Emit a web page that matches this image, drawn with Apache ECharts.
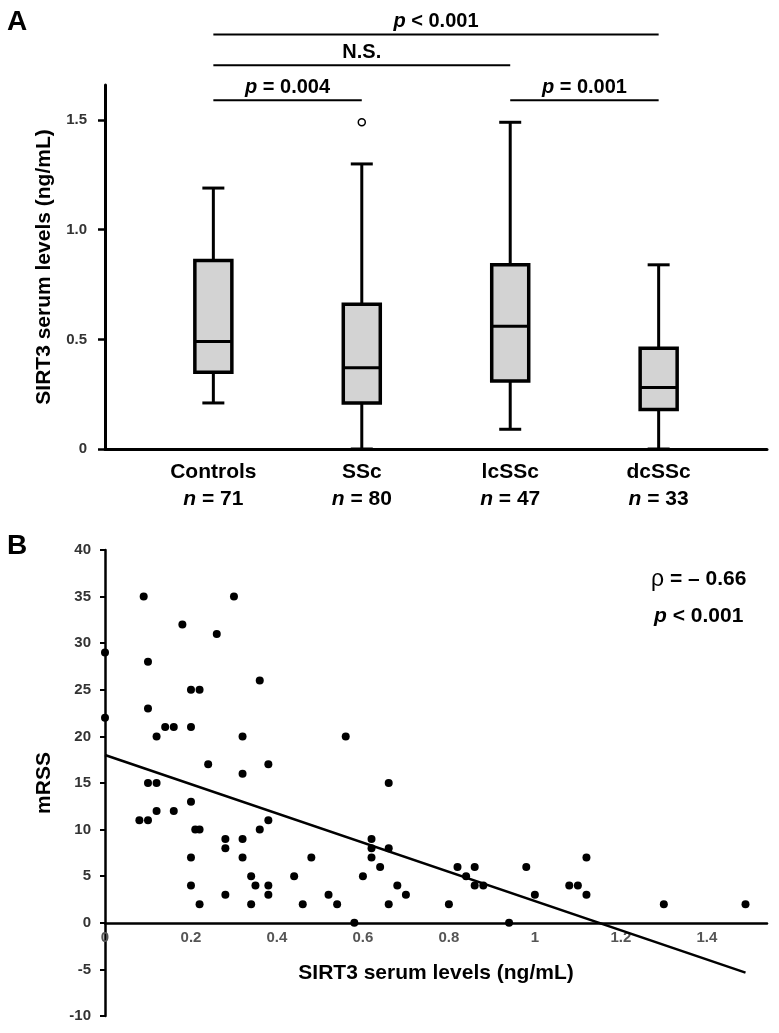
<!DOCTYPE html>
<html>
<head>
<meta charset="utf-8">
<script src="https://cdn.jsdelivr.net/npm/echarts@6/dist/echarts.min.js"></script>
<style>
html,body{margin:0;padding:0;background:#fff;}
#chart{width:779px;height:1033px;}
</style>
</head>
<body>
<div id="chart"></div>
<script>
// ---------- Panel A data ----------
const categories = ['Controls', 'SSc', 'lcSSc', 'dcSSc'];
const nCounts = [71, 80, 47, 33];
const boxMin = [0.21, 0, 0.09, 0];
const boxQ1 = [0.35, 0.21, 0.31, 0.18];
const boxMedian = [0.49, 0.37, 0.56, 0.28];
const boxQ3 = [0.86, 0.66, 0.84, 0.46];
const boxMax = [1.19, 1.30, 1.49, 0.84];
const outlierGroup = [2];
const outlierValue = [1.49];

// significance brackets (from group, to group, level, label)
const sigFrom = [1, 1, 1, 3];
const sigTo = [2, 3, 4, 4];
const sigLevel = [1.59, 1.75, 1.89, 1.59];
const sigLabel = ['p = 0.004', 'N.S.', 'p < 0.001', 'p = 0.001'];

// ---------- Panel B data ----------
const sirt3 = [
  0.09, 0.30, 0.18, 0.26, 0, 0.10, 0.20, 0.22, 0.36, 0.10, 0,
  0.14, 0.16, 0.20, 0.12, 0.32, 0.56, 0.24, 0.38, 0.32, 0.66, 0.10, 0.12,
  0.08, 0.10, 0.12, 0.16, 0.20, 0.21, 0.22, 0.20, 0.20, 0.22,
  0.28, 0.28, 0.28, 0.32, 0.32, 0.34, 0.35, 0.34, 0.36, 0.38, 0.38, 0.38,
  0.44, 0.46, 0.48, 0.52, 0.54, 0.58, 0.60, 0.62, 0.62, 0.62, 0.64, 0.66, 0.66,
  0.68, 0.70, 0.80, 0.82, 0.84, 0.86, 0.86, 0.88, 0.94, 0.98, 1.00,
  1.08, 1.10, 1.12, 1.12, 1.30, 1.49
];
const mrss = [
  35, 35, 32, 31, 29, 28, 25, 25, 26, 23, 22,
  21, 21, 21, 20, 20, 20, 17, 17, 16, 15, 15, 15,
  11, 11, 12, 12, 13, 10, 10, 7, 4, 2,
  9, 8, 3, 9, 7, 5, 4, 2, 10, 11, 4, 3,
  5, 2, 7, 3, 2, 0, 5, 9, 8, 7, 6, 8, 2,
  4, 3, 2, 6, 5, 6, 4, 4, 0, 6, 3,
  4, 4, 7, 3, 2, 2
];
const regX = [0, 1.49];
const regY = [18, -5.35];
const rhoText = '– 0.66';
const pTextB = '< 0.001';
const yMinB = -10, yMaxB = 40;

const FONT = "'Liberation Sans', Arial, sans-serif";

const boxData = categories.map((c, i) => [i + 1, boxMin[i], boxQ1[i], boxMedian[i], boxQ3[i], boxMax[i]]);
const outlierData = outlierGroup.map((g, i) => [g, outlierValue[i]]);
const sigData = sigFrom.map((f, i) => [f, sigTo[i], sigLevel[i], i]);
const scatterData = sirt3.map((x, i) => [x, mrss[i]]);
const regData = regX.map((x, i) => [x, regY[i]]);

const gridB = { left: 105, right: 12, top: 550, bottom: 17 };
const gridBHeight = 1033 - gridB.top - gridB.bottom;
const xAxisBOffset = -gridBHeight * (0 - yMinB) / (yMaxB - yMinB);

function renderBox(params, api) {
  const x = api.value(0);
  const pMin = api.coord([x, api.value(1)]);
  const pQ1 = api.coord([x, api.value(2)]);
  const pMed = api.coord([x, api.value(3)]);
  const pQ3 = api.coord([x, api.value(4)]);
  const pMax = api.coord([x, api.value(5)]);
  const bw = 37, cw = 22;
  const cx = pMed[0];
  const lineStyle = { stroke: '#000', lineWidth: 3 };
  return {
    type: 'group',
    children: [
      { type: 'line', shape: { x1: cx, y1: pMin[1], x2: cx, y2: pQ1[1] }, style: lineStyle },
      { type: 'line', shape: { x1: cx, y1: pQ3[1], x2: cx, y2: pMax[1] }, style: lineStyle },
      { type: 'line', shape: { x1: cx - cw / 2, y1: pMin[1], x2: cx + cw / 2, y2: pMin[1] }, style: lineStyle },
      { type: 'line', shape: { x1: cx - cw / 2, y1: pMax[1], x2: cx + cw / 2, y2: pMax[1] }, style: lineStyle },
      { type: 'rect', shape: { x: cx - bw / 2, y: pQ3[1], width: bw, height: pQ1[1] - pQ3[1] },
        style: { fill: '#d3d3d3', stroke: '#000', lineWidth: 3.5 } },
      { type: 'line', shape: { x1: cx - bw / 2, y1: pMed[1], x2: cx + bw / 2, y2: pMed[1] }, style: { stroke: '#000', lineWidth: 3 } }
    ]
  };
}

function renderSig(params, api) {
  const a = api.coord([api.value(0), api.value(2)]);
  const b = api.coord([api.value(1), api.value(2)]);
  const label = sigLabel[api.value(3)];
  const rich = label.charAt(0) === 'p' ? '{i|p}' + label.slice(1) : label;
  return {
    type: 'group',
    children: [
      { type: 'line', shape: { x1: a[0], y1: a[1], x2: b[0], y2: b[1] }, style: { stroke: '#000', lineWidth: 2 } },
      { type: 'text', x: (a[0] + b[0]) / 2, y: a[1] - 3,
        style: { text: rich, fontFamily: FONT, fontWeight: 'bold', fontSize: 20, fill: '#000',
                 align: 'center', verticalAlign: 'bottom',
                 rich: { i: { fontStyle: 'italic', fontWeight: 'bold', fontSize: 20, fontFamily: FONT } } } }
    ]
  };
}

const chart = echarts.init(document.getElementById('chart'), null, { renderer: 'canvas' });

const option = {
  backgroundColor: '#fff',
  animation: false,
  textStyle: { fontFamily: FONT },
  grid: [
    { left: 105, right: 12, top: 85, bottom: 584 },
    gridB
  ],
  xAxis: [
    {
      gridIndex: 0, type: 'value', min: 0.27, max: 4.73,
      splitLine: { show: false },
      axisLine: { show: true, lineStyle: { color: '#000', width: 3 } },
      axisTick: { show: false },
      axisLabel: {
        customValues: [1, 2, 3, 4],
        margin: 10,
        color: '#000', fontWeight: 'bold', fontSize: 21, fontFamily: FONT, lineHeight: 27,
        formatter: function (v) {
          const i = Math.round(v) - 1;
          return categories[i] + '\n{i|n} = ' + nCounts[i];
        },
        rich: { i: { fontStyle: 'italic', fontWeight: 'bold', fontSize: 21, fontFamily: FONT, color: '#000', lineHeight: 27 } }
      }
    },
    {
      gridIndex: 1, type: 'value', min: 0, max: 1.54, interval: 0.2,
      offset: xAxisBOffset,
      splitLine: { show: false },
      axisLine: { show: true, onZero: false, lineStyle: { color: '#000', width: 2.5 } },
      axisTick: { show: false },
      axisLabel: {
        margin: 8, showMaxLabel: false,
        color: '#555', fontWeight: 'bold', fontSize: 15, fontFamily: FONT,
        formatter: function (v) { return String(Math.round(v * 10) / 10); }
      },
      name: 'SIRT3 serum levels (ng/mL)', nameLocation: 'middle', nameGap: 40,
      nameTextStyle: { color: '#000', fontWeight: 'bold', fontSize: 21, fontFamily: FONT }
    }
  ],
  yAxis: [
    {
      gridIndex: 0, type: 'value', min: 0, max: 1.66, interval: 0.5,
      splitLine: { show: false },
      axisLine: { show: true, lineStyle: { color: '#000', width: 3 } },
      axisTick: { show: true, length: 7, lineStyle: { color: '#000', width: 2.5 } },
      axisLabel: {
        margin: 18, showMaxLabel: false,
        color: '#333', fontWeight: 'bold', fontSize: 15, fontFamily: FONT,
        formatter: function (v) { return v === 0 ? '0' : v.toFixed(1); }
      },
      name: 'SIRT3 serum levels (ng/mL)', nameLocation: 'middle', nameGap: 50, nameRotate: 90,
      nameTextStyle: { color: '#000', fontWeight: 'bold', fontSize: 21, fontFamily: FONT }
    },
    {
      gridIndex: 1, type: 'value', min: yMinB, max: yMaxB, interval: 5,
      splitLine: { show: false },
      axisLine: { show: true, onZero: false, lineStyle: { color: '#000', width: 2.5 } },
      axisTick: { show: true, length: 5, lineStyle: { color: '#000', width: 2 } },
      axisLabel: {
        margin: 14,
        color: '#333', fontWeight: 'bold', fontSize: 15, fontFamily: FONT
      },
      name: 'mRSS', nameLocation: 'middle', nameGap: 50, nameRotate: 90,
      nameTextStyle: { color: '#000', fontWeight: 'bold', fontSize: 21, fontFamily: FONT }
    }
  ],
  series: [
    {
      type: 'custom', xAxisIndex: 0, yAxisIndex: 0,
      renderItem: renderBox, data: boxData,
      encode: { x: 0, y: [1, 2, 3, 4, 5] }, z: 3
    },
    {
      type: 'scatter', xAxisIndex: 0, yAxisIndex: 0,
      data: outlierData, symbol: 'circle', symbolSize: 7,
      itemStyle: { color: '#fff', borderColor: '#000', borderWidth: 1.5, opacity: 1 }, z: 4
    },
    {
      type: 'custom', xAxisIndex: 0, yAxisIndex: 0, clip: false,
      renderItem: renderSig, data: sigData,
      encode: { x: [0, 1], y: 2 }, z: 5
    },
    {
      type: 'scatter', xAxisIndex: 1, yAxisIndex: 1,
      data: scatterData, symbol: 'circle', symbolSize: 8,
      itemStyle: { color: '#000', opacity: 1 }, z: 4
    },
    {
      type: 'line', xAxisIndex: 1, yAxisIndex: 1,
      data: regData, showSymbol: false, symbol: 'none',
      lineStyle: { color: '#000', width: 2.5 }, z: 3
    }
  ],
  graphic: [
    { type: 'text', left: 7, top: 8, style: { text: 'A', fontFamily: FONT, fontWeight: 'bold', fontSize: 28, fill: '#000' } },
    { type: 'text', left: 7, top: 532, style: { text: 'B', fontFamily: FONT, fontWeight: 'bold', fontSize: 28, fill: '#000' } },
    { type: 'text', left: 651, top: 568, style: {
        text: '{r|ρ} = ' + rhoText, fontFamily: FONT, fontWeight: 'bold', fontSize: 21, fill: '#000',
        rich: { r: { fontFamily: FONT, fontWeight: 'normal', fontSize: 23, fill: '#000' } } } },
    { type: 'text', left: 654, top: 606, style: {
        text: '{i|p} ' + pTextB, fontFamily: FONT, fontWeight: 'bold', fontSize: 21, fill: '#000',
        rich: { i: { fontFamily: FONT, fontWeight: 'bold', fontStyle: 'italic', fontSize: 21, fill: '#000' } } } }
  ]
};

chart.setOption(option);
</script>
</body>
</html>
